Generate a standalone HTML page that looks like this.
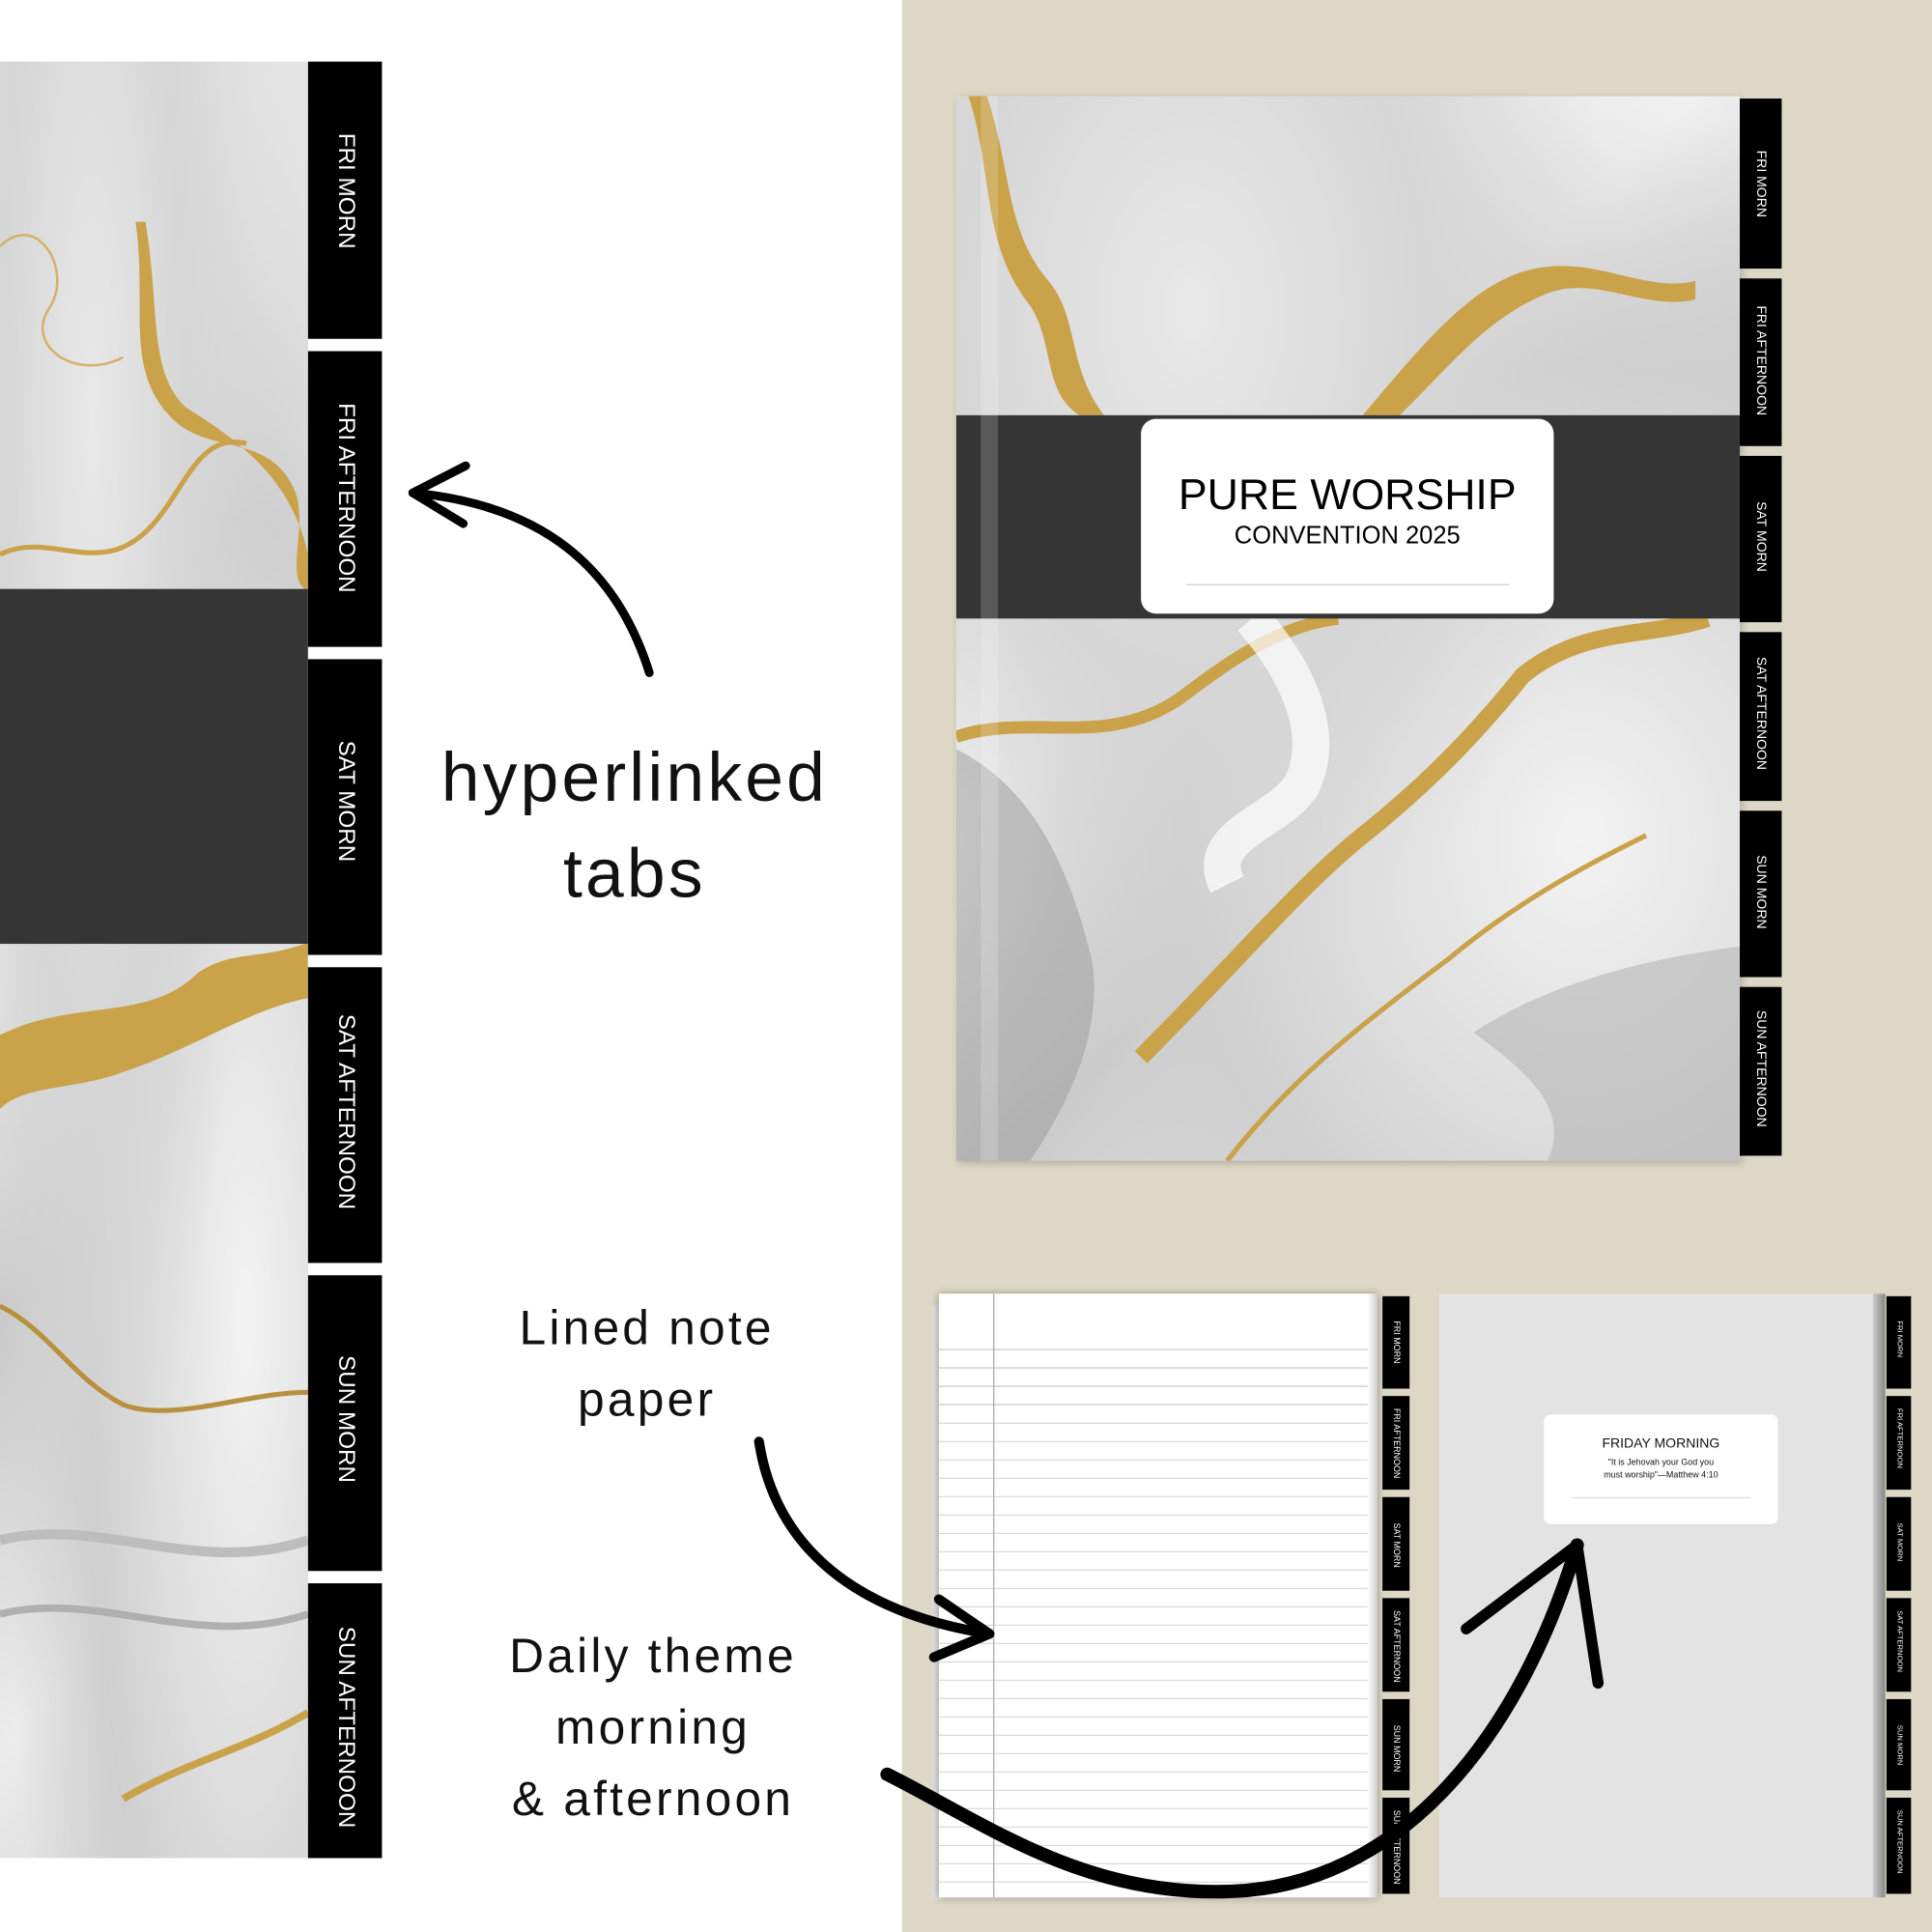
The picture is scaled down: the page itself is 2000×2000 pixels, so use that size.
<!DOCTYPE html>
<html><head><meta charset="utf-8"><style>
*{margin:0;padding:0;box-sizing:border-box}
html,body{width:2000px;height:2000px;overflow:hidden;background:#fff}
#w{position:absolute;left:0;top:0;width:1568px;height:1568px;transform:scale(1.27551);transform-origin:0 0;font-family:"Liberation Sans",sans-serif}
.a{position:absolute}
.tab{position:absolute;background:#000;color:#fff;writing-mode:vertical-rl;display:flex;align-items:center;justify-content:flex-start;white-space:nowrap}
.lbl{position:absolute;text-align:center;color:#111;letter-spacing:2.5px;font-family:"Liberation Sans",sans-serif;font-weight:normal}
.marble{background:
 radial-gradient(ellipse at 30% 20%,#e9e9e9 0,#d6d6d6 30%,transparent 55%),
 radial-gradient(ellipse at 80% 70%,#f3f3f3 0,#cfcfcf 45%,transparent 70%),
 linear-gradient(135deg,#dcdcdc,#f0f0f0 40%,#c9c9c9 60%,#ececec 80%,#d2d2d2)}
</style></head><body><div id="w">

<div class="a" style="left:732px;top:0;width:836px;height:1568px;background:#ddd7c5"></div>

<div class="a marble" style="left:0;top:50px;width:250px;height:1458px;overflow:hidden">
<svg width="250" height="1458" style="position:absolute;left:0;top:0">
<path d="M110 130 C120 200 100 250 140 290 C170 320 220 300 240 350 C250 380 230 420 250 430 L250 400 C235 330 180 300 150 280 C120 250 130 200 118 130Z" fill="#c9a24a"/>
<path d="M0 400 C40 380 80 420 120 380 C150 350 160 300 200 310" stroke="#c9a24a" stroke-width="4" fill="none"/>
<path d="M0 150 C30 120 60 170 40 200 C20 230 60 260 100 240" stroke="#d4b26a" stroke-width="2" fill="none"/>
<path d="M0 790 C60 760 120 780 160 740 C190 720 210 730 250 715 L250 760 C200 770 160 800 100 820 C60 835 20 830 0 850Z" fill="#c9a24a"/>
<path d="M0 1010 C40 1030 60 1070 100 1090 C140 1105 200 1080 250 1080" stroke="#b8913e" stroke-width="4" fill="none"/>
<path d="M100 1410 C150 1380 200 1370 250 1340" stroke="#c9a24a" stroke-width="6" fill="none"/>
<path d="M0 1200 C80 1180 160 1230 250 1200" stroke="#bdbdbd" stroke-width="8" fill="none"/>
<path d="M0 1260 C80 1240 160 1290 250 1260" stroke="#b0b0b0" stroke-width="6" fill="none"/>
</svg>
<div class="a" style="left:0;top:428px;width:250px;height:288px;background:#353535"></div>
</div>

<div class="tab" style="left:250px;top:50px;width:60px;height:225px;padding-top:58px;font-size:19px">FRI MORN</div>
<div class="tab" style="left:250px;top:285px;width:60px;height:240px;padding-top:42px;font-size:19px">FRI AFTERNOON</div>
<div class="tab" style="left:250px;top:535px;width:60px;height:240px;padding-top:66px;font-size:19px">SAT MORN</div>
<div class="tab" style="left:250px;top:785px;width:60px;height:240px;padding-top:38px;font-size:19px">SAT AFTERNOON</div>
<div class="tab" style="left:250px;top:1035px;width:60px;height:240px;padding-top:65px;font-size:19px">SUN MORN</div>
<div class="tab" style="left:250px;top:1285px;width:60px;height:223px;padding-top:35px;font-size:19px">SUN AFTERNOON</div>

<div class="lbl" style="left:300px;top:592px;width:430px;font-size:56px;line-height:78px">hyperlinked<br>tabs</div>
<div class="lbl" style="left:330px;top:1050px;width:390px;font-size:39px;line-height:58px">Lined note<br>paper</div>
<div class="lbl" style="left:330px;top:1316px;width:400px;font-size:39px;line-height:58px">Daily theme<br>morning<br>&amp; afternoon</div>

<div class="a marble" style="left:776px;top:78px;width:636px;height:864px;overflow:hidden;box-shadow:2px 2px 6px rgba(0,0,0,.2)">
<svg width="636" height="864" style="position:absolute;left:0;top:0">
<path d="M10 0 C30 60 20 120 60 170 C80 200 70 240 100 259 L120 259 C90 220 100 180 75 150 C40 110 45 60 25 0Z" fill="#c9a24a"/>
<path d="M330 259 C380 200 420 150 470 140 C520 130 560 160 600 150 L600 165 C560 175 520 145 480 160 C430 180 400 220 360 259Z" fill="#c9a24a"/>
<path d="M0 520 C60 500 120 530 180 490 C220 460 260 430 310 424" stroke="#c9a24a" stroke-width="10" fill="none"/>
<path d="M150 780 C230 700 280 640 330 600 C380 560 420 520 460 470 C510 430 560 440 610 424" stroke="#c9a24a" stroke-width="14" fill="none"/>
<path d="M220 864 C270 800 320 760 400 700 C460 650 520 620 560 600" stroke="#c9a24a" stroke-width="4" fill="none"/>
<path d="M0 530 C60 560 90 620 110 700 C120 760 90 820 60 864 L0 864Z" fill="#9a9a9a" opacity=".5"/>
<path d="M420 760 C480 720 560 700 636 690 L636 864 L480 864 C500 820 460 790 420 760Z" fill="#b5b5b5" opacity=".6"/>
<path d="M240 424 C280 470 300 520 280 560 C260 590 200 600 220 640" stroke="#fff" stroke-width="30" fill="none" opacity=".7"/>
</svg>
<div class="a" style="left:0;top:259px;width:636px;height:165px;background:#353535"></div>
<div class="a" style="left:20px;top:0;width:14px;height:864px;background:rgba(255,255,255,.18)"></div>
</div>
<div class="a" style="left:926px;top:340px;width:335px;height:158px;background:#fff;border-radius:12px;text-align:center;font-family:'Liberation Sans',sans-serif">
<div style="margin-top:42px;font-size:35px;line-height:40px;color:#000">PURE WORSHIP</div>
<div style="font-size:20px;line-height:26px;color:#000">CONVENTION 2025</div>
<div style="margin:26px auto 0;width:262px;height:1px;background:#ccc"></div>
</div>
<div class="tab" style="left:1412px;top:80px;width:34px;height:138px;padding-top:42px;font-size:11px">FRI MORN</div>
<div class="tab" style="left:1412px;top:226px;width:34px;height:136px;padding-top:22px;font-size:11px">FRI AFTERNOON</div>
<div class="tab" style="left:1412px;top:370px;width:34px;height:135px;padding-top:37px;font-size:11px">SAT MORN</div>
<div class="tab" style="left:1412px;top:513px;width:34px;height:137px;padding-top:20px;font-size:11px">SAT AFTERNOON</div>
<div class="tab" style="left:1412px;top:658px;width:34px;height:135px;padding-top:36px;font-size:11px">SUN MORN</div>
<div class="tab" style="left:1412px;top:801px;width:34px;height:137px;padding-top:19px;font-size:11px">SUN AFTERNOON</div>

<div class="a" style="left:756px;top:1060px;width:360px;height:482px;background:#ddd;"></div>
<div class="a" style="left:762px;top:1050px;width:356px;height:490px;background:#fff;box-shadow:0 0 6px rgba(0,0,0,.35);overflow:hidden;
 background-image:repeating-linear-gradient(to bottom,transparent 0,transparent 13.9px,#d2d2d2 13.9px,#d2d2d2 14.9px);background-position:0 31px;background-repeat:repeat">
<div class="a" style="left:0;top:0;width:356px;height:31px;background:#fff"></div>
<div class="a" style="left:44px;top:0;width:1px;height:490px;background:#aaa"></div>
<div class="a" style="left:348px;top:0;width:8px;height:490px;background:linear-gradient(90deg,#fff,#ccc)"></div>
</div>
<div class="tab" style="left:1122px;top:1052px;width:22px;height:75px;padding-top:20px;font-size:7px">FRI MORN</div>
<div class="tab" style="left:1122px;top:1133px;width:22px;height:76px;padding-top:10px;font-size:7px">FRI AFTERNOON</div>
<div class="tab" style="left:1122px;top:1215px;width:22px;height:76px;padding-top:21px;font-size:7px">SAT MORN</div>
<div class="tab" style="left:1122px;top:1297px;width:22px;height:76px;padding-top:10px;font-size:7px">SAT AFTERNOON</div>
<div class="tab" style="left:1122px;top:1379px;width:22px;height:74px;padding-top:21px;font-size:7px">SUN MORN</div>
<div class="tab" style="left:1122px;top:1459px;width:22px;height:78px;padding-top:10px;font-size:7px">SUN AFTERNOON</div>

<div class="a" style="left:1168px;top:1050px;width:360px;height:490px;background:#e3e3e3"></div>
<div class="a" style="left:1520px;top:1050px;width:10px;height:490px;background:linear-gradient(90deg,#ccc,#888)"></div>
<div class="a" style="left:1253px;top:1148px;width:190px;height:89px;background:#fff;border-radius:6px;text-align:center;font-family:'Liberation Sans',sans-serif;color:#111">
<div style="margin-top:18px;font-size:11px">FRIDAY MORNING</div>
<div style="margin-top:5px;font-size:7px;line-height:10px">"It is Jehovah your God you<br>must worship"—Matthew 4:10</div>
<div style="margin:12px auto 0;width:145px;height:1px;background:#ddd"></div>
</div>
<div class="tab" style="left:1531px;top:1052px;width:20px;height:75px;padding-top:20px;font-size:6px">FRI MORN</div>
<div class="tab" style="left:1531px;top:1133px;width:20px;height:76px;padding-top:10px;font-size:6px">FRI AFTERNOON</div>
<div class="tab" style="left:1531px;top:1215px;width:20px;height:76px;padding-top:21px;font-size:6px">SAT MORN</div>
<div class="tab" style="left:1531px;top:1297px;width:20px;height:76px;padding-top:10px;font-size:6px">SAT AFTERNOON</div>
<div class="tab" style="left:1531px;top:1379px;width:20px;height:74px;padding-top:21px;font-size:6px">SUN MORN</div>
<div class="tab" style="left:1531px;top:1459px;width:20px;height:78px;padding-top:10px;font-size:6px">SUN AFTERNOON</div>

<svg class="a" style="left:0;top:0" width="1568" height="1568">
<g fill="none" stroke="#000" stroke-linecap="round" stroke-linejoin="round">
<path d="M527 546 C500 460 440 410 335 400" stroke-width="7"/>
<path d="M378 378 L335 400 L376 425" stroke-width="7"/>
<path d="M616 1170 C630 1260 700 1310 803 1326" stroke-width="8"/>
<path d="M762 1298 L803 1326 L758 1345" stroke-width="8"/>
<path d="M720 1440 C800 1480 880 1540 1000 1535 C1130 1530 1230 1420 1280 1254" stroke-width="11"/>
<path d="M1190 1322 L1280 1254 L1297 1366" stroke-width="9"/>
</g>
</svg>
</div></body></html>
